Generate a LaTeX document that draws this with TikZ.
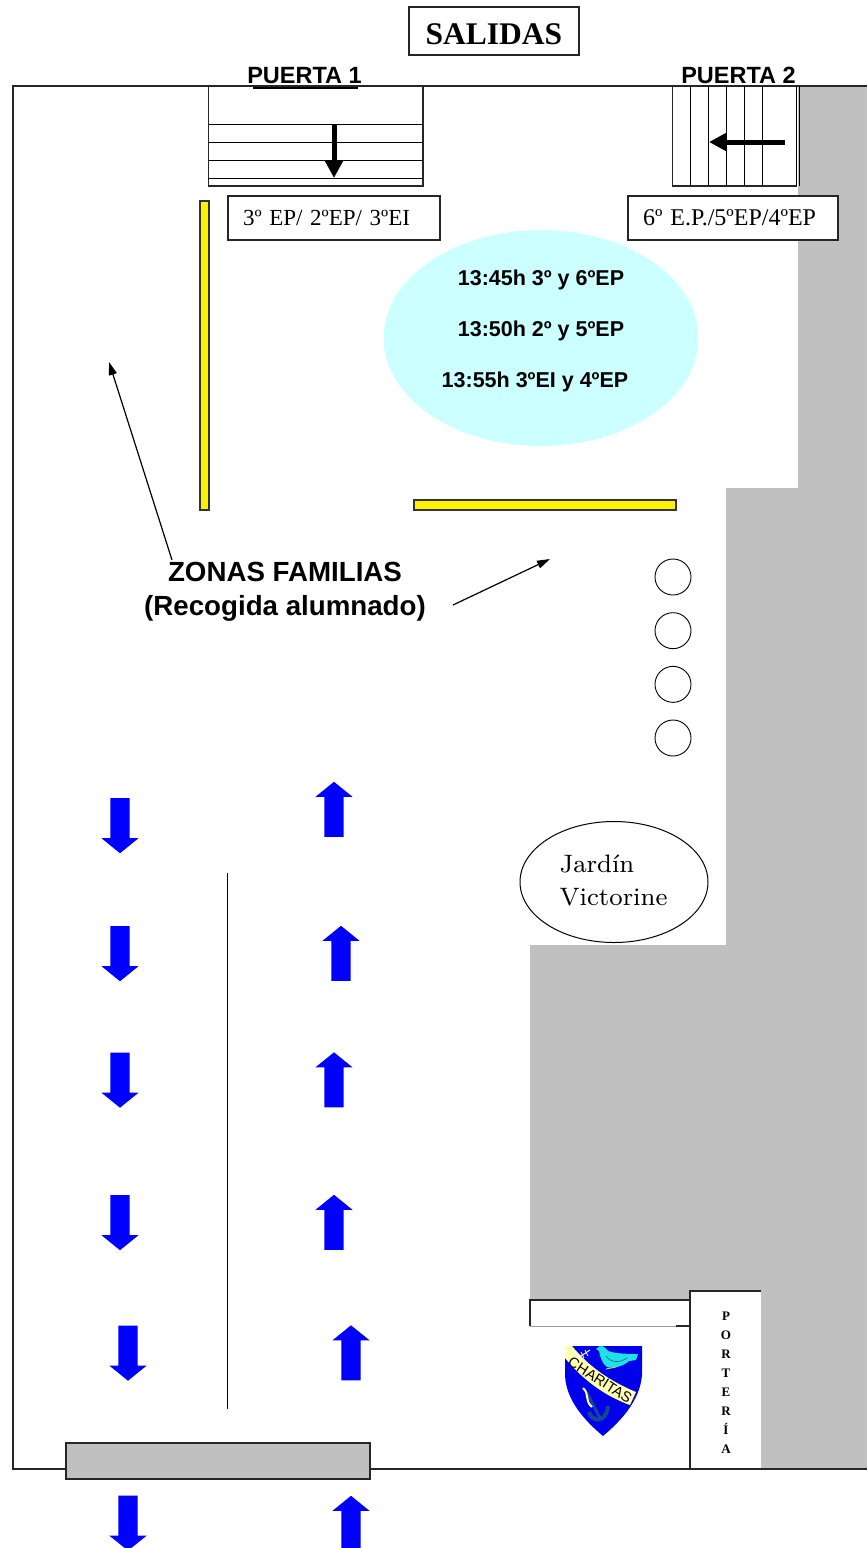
\documentclass[tikz,border=0pt]{standalone}
\usepackage{fontspec}
\newfontfamily\arialfont{Liberation Sans}
\newfontfamily\timesfont{Liberation Serif}
\newfontfamily\gardenfont[Path=,Extension=.otf]{lmroman8-regular}
\usetikzlibrary{shapes.geometric, shapes.arrows, arrows.meta, positioning}
\definecolor{zonegray}{RGB}{192,192,192}
\definecolor{turnscyan}{RGB}{204,255,255}
\definecolor{barblue}{RGB}{0,0,255}
\definecolor{bandyellow}{RGB}{255,255,176}
\definecolor{dovecyan}{RGB}{30,225,235}
\definecolor{anchorblue}{RGB}{20,70,150}
\tikzstyle{frameline} = [line width=1.2pt, draw=black!85]
\tikzstyle{titlebox} = [rectangle, draw=black!85, line width=1.1pt, inner sep=0pt, text height=26pt, text depth=0pt, font=\timesfont\bfseries\fontsize{31.5}{36}\selectfont]
\tikzstyle{doorlabel} = [anchor=base, inner sep=0pt, font=\arialfont\bfseries\fontsize{23.5}{26}\selectfont]
\tikzstyle{groupbox} = [rectangle, draw=black!85, line width=1.1pt, inner xsep=15pt, inner ysep=0pt, align=left, font=\timesfont\fontsize{24}{28}\selectfont]
\tikzstyle{yellowbar} = [rectangle, draw=black!80, fill=yellow, line width=1.1pt, inner sep=0pt]
\tikzstyle{timetext} = [inner sep=0pt, font=\arialfont\bfseries\fontsize{21.5}{25}\selectfont]
\tikzstyle{stopmark} = [circle, draw=black, line width=0.9pt, inner sep=0pt, minimum size=36pt]
\tikzstyle{bluearrow} = [single arrow, fill=barblue, inner sep=9.5pt, anchor=tail, minimum width=37pt, minimum height=55pt, single arrow head extend=9pt, single arrow tip angle=102, single arrow head indent=0pt]
\tikzstyle{arrowdown} = [bluearrow, shape border rotate=270]
\tikzstyle{arrowup} = [bluearrow, shape border rotate=90]
\tikzstyle{arrow} = [line width=1.2pt,->,>={Triangle[length=13pt,width=8pt]}]
\tikzstyle{doorarrow} = [line width=5pt,->,>={Triangle[length=17pt,width=17pt]}]

\begin{document}
\begin{tikzpicture}[x=1pt, y=-1pt, node distance=53.67pt]
    \useasboundingbox (0,0) rectangle (867,1548);

    % Grey areas
    \fill [zonegray] (798,86) -- (867,86) -- (867,1469) -- (530,1469) -- (530,945) -- (726,945) -- (726,488) -- (798,488) -- cycle;
    \fill [white] (530,1300) rectangle (690,1469);

    % Outer wall
    \draw [frameline] (867,86) -- (13,86) -- (13,1469) -- (867,1469);

    % Title and doors
    \node (title) [titlebox, minimum width=170pt, minimum height=48pt] at (494,31) {SALIDAS};
    \node (door1_label) [doorlabel] at (304.5,83) {PUERTA 1};
    \node (door2_label) [doorlabel] at (738.5,83) {PUERTA 2};
    \draw [line width=1.6pt] (253,88) -- (358,88);

    % Door 1 steps
    \draw [frameline] (208.5,86) rectangle (423,186);
    \foreach \stepy in {124,142,160,178}
        \draw [line width=1pt] (208.5,\stepy) -- (423,\stepy);
    \coordinate (door1_from) at (334,124);
    \coordinate (door1_to) at (334,178);
    \draw [doorarrow] (door1_from) -- (door1_to);

    % Door 2 steps
    \draw [frameline] (797,86) -- (672.5,86) -- (672.5,186) -- (797,186);
    \foreach \stepx in {690,708,726,744,762}
        \draw [line width=0.8pt] (\stepx,86) -- (\stepx,186);
    \draw [line width=1pt] (796.5,86) -- (796.5,186);
    \draw [line width=1pt] (799.5,86) -- (799.5,186);
    \coordinate (door2_from) at (785,142);
    \coordinate (door2_to) at (709,142);
    \draw [doorarrow] (door2_from) -- (door2_to);

    % Groups
    \node (group1) [groupbox, text width=182pt, minimum height=44pt, font=\timesfont\fontsize{23}{28}\selectfont] at (334,218) {3º EP/ 2ºEP/ 3ºEI};
    \node (group2) [groupbox, fill=white, text width=180pt, minimum height=44pt] at (733,218) {6º E.P./5ºEP/4ºEP};

    % Yellow barriers
    \node (bar1) [yellowbar, minimum width=9pt, minimum height=309pt] at (204.5,355.5) {};
    \node (bar2) [yellowbar, minimum width=262pt, minimum height=10pt] at (545,505) {};

    % Timetable
    \node (turns) [ellipse, fill=turnscyan, inner sep=0pt, minimum width=315pt, minimum height=216pt] at (541,338) {};
    \node (turn1) [timetext] at (541,280) {13:45h 3º y 6ºEP};
    \node (turn2) [timetext] at (541,331) {13:50h 2º y 5ºEP};
    \node (turn3) [timetext] at (535,382) {13:55h 3ºEI y 4ºEP};

    % Families
    \node (families) [inner sep=0pt, align=center, font=\arialfont\bfseries\fontsize{27.7}{34}\selectfont] at (285,592) {ZONAS FAMILIAS\\(Recogida alumnado)};
    \coordinate (left_from) at (172,560);
    \coordinate (left_to) at (109,362);
    \coordinate (right_from) at (453,605);
    \coordinate (right_to) at (550,559);
    \draw [arrow] (left_from) -- (left_to);
    \draw [arrow] (right_from) -- (right_to);

    % Circles
    \node (stop1) [stopmark] at (673,577) {};
    \node (stop2) [stopmark, below of=stop1] {};
    \node (stop3) [stopmark, below of=stop2] {};
    \node (stop4) [stopmark, below of=stop3] {};

    % Garden
    \node (garden) [ellipse, draw=black, fill=white, line width=1pt, inner sep=0pt, minimum width=188pt, minimum height=121pt] at (614,882) {};
    \node (garden_text) [inner sep=0pt, align=left, font=\gardenfont\fontsize{25.2}{33}\selectfont] at (613.5,880) {Jardín\\Victorine};

    % Middle line
    \coordinate (mid_top) at (227,873);
    \coordinate (mid_bottom) at (227,1409);
    \draw [line width=1pt] (mid_top) -- (mid_bottom);

    % Going down
    \node (down1) [arrowdown] at (120,798) {};
    \node (down2) [arrowdown] at (120,926) {};
    \node (down3) [arrowdown] at (120,1052.5) {};
    \node (down4) [arrowdown] at (120,1195) {};
    \node (down5) [arrowdown] at (128,1325.5) {};
    \node (down6) [arrowdown] at (128,1495.5) {};

    % Going up
    \node (up1) [arrowup] at (334,837) {};
    \node (up2) [arrowup] at (341,981) {};
    \node (up3) [arrowup] at (334,1107.5) {};
    \node (up4) [arrowup] at (334,1250) {};
    \node (up5) [arrowup] at (351,1380.5) {};
    \node (up6) [arrowup] at (351,1551) {};

    % Gate
    \node (gate) [rectangle, draw=black!85, fill=zonegray, line width=1.1pt, inner sep=0pt, minimum width=304pt, minimum height=36pt] at (218,1461) {};

    % Porter's lodge
    \fill [white] (690,1291) rectangle (761,1469);
    \draw [frameline] (761,1291) -- (690,1291) -- (690,1469);
    \draw [frameline] (690,1326) -- (676,1326);
    \draw [line width=0.8pt, draw=black!40] (676,1326) -- (530,1326);
    \draw [frameline] (530,1326) -- (530,1300) -- (690,1300);
    \draw [frameline] (690,1469) -- (867,1469);
    \node (porter) [inner sep=0pt, align=center, font=\timesfont\bfseries\fontsize{13}{19}\selectfont] at (726,1382.5) {P\\O\\R\\T\\E\\R\\Í\\A};

    % Shield
    \fill [barblue!92!black] (565,1346) -- (642,1346) -- (642,1375) .. controls (640,1400) and (622,1420) .. (603,1436) .. controls (584,1420) and (566,1400) .. (565,1375) -- cycle;
    \fill [bandyellow] (565,1346) -- (572,1346) .. controls (590,1368) and (612,1382) .. (636,1392) -- (630,1405) .. controls (605,1396) and (583,1380) .. (565,1358) -- cycle;
    \node (motto) [inner sep=0pt, rotate=-32.5, font=\arialfont\fontsize{14.5}{16}\selectfont] at (600,1380) {CHARITAS};
    \fill [dovecyan] (596,1349) -- (599,1346.5) .. controls (603,1345) and (606,1348) .. (608,1351) .. controls (614,1353) and (622,1354) .. (638,1354) -- (636,1360) -- (629,1361) .. controls (622,1367) and (612,1369) .. (607,1367) .. controls (602,1364) and (600,1356) .. (599,1351) -- cycle;
    \draw [black!55!dovecyan, line width=0.6pt] (606,1356) .. controls (611,1363) and (620,1363) .. (627,1358);
    \draw [yellow!80!black, line width=1pt] (606,1369) -- (616,1367);
    \draw [white, line width=1pt] (578,1358) -- (590,1350);
    \draw [white, line width=0.8pt] (581,1352) -- (584,1358);
    \draw [white, line width=0.8pt] (585,1350) -- (588,1356);
    \draw [anchorblue, line width=3pt] (587,1393) -- (600,1418);
    \draw [anchorblue, line width=4pt] (589,1412) .. controls (592,1422) and (606,1424) .. (608,1406);
    \draw [white, line width=2pt] (583,1388) .. controls (590,1394) and (584,1400) .. (592,1407);
\end{tikzpicture}
\end{document}
